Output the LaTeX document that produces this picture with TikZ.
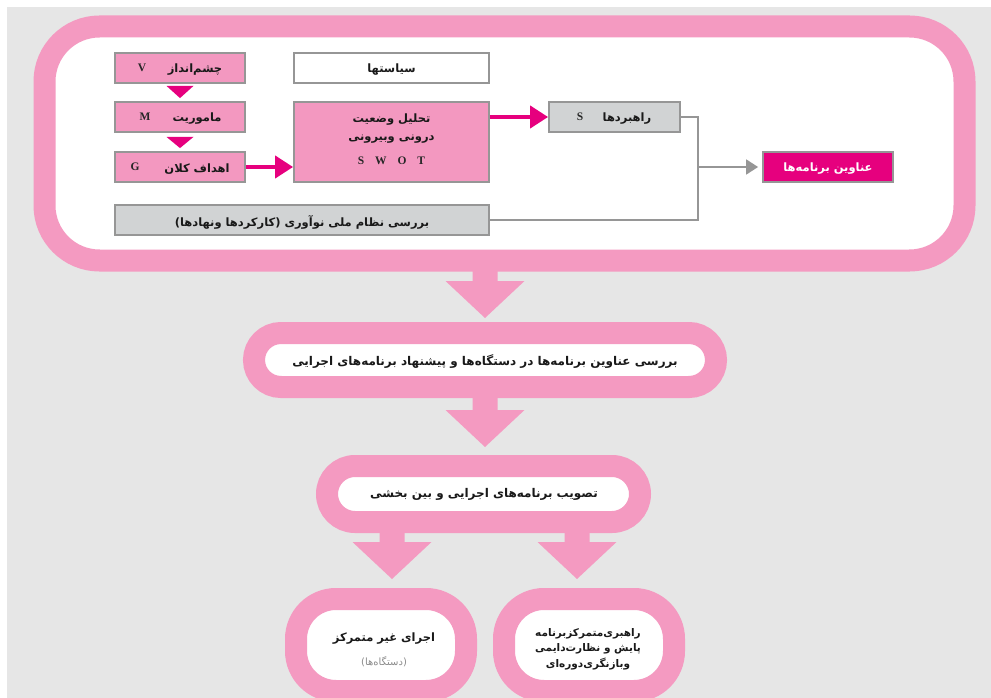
\documentclass[tikz,border=0pt]{standalone}
\usepackage{fontspec}
\setmainfont{DejaVu Sans}
\newfontfamily\fa[Script=Arabic]{DejaVu Sans}
\newfontfamily\lat{Liberation Serif}
\TeXXeTstate=1
\usetikzlibrary{arrows.meta,calc}
\definecolor{bandpink}{RGB}{244,154,193}
\definecolor{boxpink}{RGB}{243,152,192}
\definecolor{mag}{RGB}{230,0,126}
\definecolor{bgc}{RGB}{230,230,230}
\definecolor{boxgrey}{RGB}{209,211,212}
\definecolor{boxline}{RGB}{150,150,150}
\definecolor{linegrey}{RGB}{150,150,150}
\definecolor{softtext}{RGB}{140,140,140}
\tikzset{
 box/.style={draw=boxline, line width=1.8pt, minimum height=30pt, inner sep=0pt},
 pinkbox/.style={box, fill=boxpink},
 greybox/.style={box, fill=boxgrey},
 whitebox/.style={box, fill=white},
 fatext/.style={font=\fa\bfseries\fontsize{11.5}{13}\selectfont, inner sep=0pt, text=black!90, yshift=-2pt},
 pilltext/.style={font=\fa\bfseries\fontsize{12}{14}\selectfont, inner sep=0pt, text=black!90, yshift=-2pt},
 lettext/.style={font=\lat\bfseries\fontsize{11.5}{12}\selectfont, inner sep=0pt, text=black!85},
 band/.style={draw=bandpink, line width=22pt, fill=white, inner sep=0pt},
 conn/.style={draw=linegrey, line width=1.8pt},
 magarrow/.style={draw=mag, line width=4pt, -{Triangle[length=18pt,width=22pt]}},
 greyarrow/.style={conn, -{Triangle[length=12pt,width=15pt]}},
 bigarrow/.style={to path={let \p1=(\tikztostart), \p2=(\tikztotarget) in
   ({\x2-12.5pt},{\y1+3pt}) -- ({\x2+12.5pt},{\y1+3pt}) -- ({\x2+12.5pt},{\y2+37pt})
   -- ({\x2+39.5pt},{\y2+37pt}) -- (\p2) -- ({\x2-39.5pt},{\y2+37pt})
   -- ({\x2-12.5pt},{\y2+37pt}) -- cycle}},
}
\begin{document}
\begin{tikzpicture}[x=1pt,y=-1pt]
\useasboundingbox (0,0) rectangle (991,698);
\clip (0,0) rectangle (991,698);
\fill[white] (0,0) rectangle (991,698);
\fill[bgc] (7,7) rectangle (991,698);

% top frame
\node[band, rounded corners=55pt, minimum width=920pt, minimum height=234pt] (top) at (504.5,143.5) {};

% left column
\node[pinkbox, minimum width=130pt] (V) at (180,68) {};
\node[fatext] (Vt) at ($(V)+(15,0)$) {\beginR چشم‌انداز\endR};
\node[lettext] (Vl) at ($(V)+(-38,0)$) {V};
\node[pinkbox, minimum width=130pt] (M) at (180,117) {};
\node[fatext] (Mt) at ($(M)+(17,0)$) {\beginR ماموریت\endR};
\node[lettext] (Ml) at ($(M)+(-35,0)$) {M};
\node[pinkbox, minimum width=130pt] (G) at (180,167) {};
\node[fatext] (Gt) at ($(G)+(17,0)$) {\beginR اهداف کلان\endR};
\node[lettext] (Gl) at ($(G)+(-45,0)$) {G};

\fill[mag] ($(V.south)+(-13.5,2)$) -- ($(V.south)+(13.5,2)$) -- ($(M.north)+(0,-3)$) -- cycle;
\fill[mag] ($(M.south)+(-13.5,4)$) -- ($(M.south)+(13.5,4)$) -- ($(G.north)+(0,-3)$) -- cycle;

% middle column
\node[whitebox, minimum width=195pt] (P) at (391.5,68) {};
\node[fatext] (Pt) at (P) {\beginR سیاستها\endR};
\node[pinkbox, minimum width=195pt, minimum height=80pt] (W) at (391.5,142) {};
\node[fatext] (Wt1) at ($(W)+(0,-24)$) {\beginR تحلیل وضعیت\endR};
\node[fatext] (Wt2) at ($(W)+(0,-5)$) {\beginR درونی وبیرونی\endR};
\node[lettext] (Wt3) at ($(W)+(0,19)$) {S\hspace{0.95em}W\hspace{0.95em}O\hspace{0.95em}T};
\node[greybox, minimum width=374pt] (N) at (302,220) {};
\node[fatext] (Nt) at (N) {\beginR بررسی نظام ملی نوآوری (کارکردها ونهادها)\endR};

% right column
\node[greybox, minimum width=131pt] (S) at (614.5,117) {};
\node[fatext] (St) at ($(S)+(12.5,0)$) {\beginR راهبردها\endR};
\node[lettext] (Sl) at ($(S)+(-34.5,0)$) {S};
\node[box, fill=mag, minimum width=130pt] (T) at (828,167) {};
\node[fatext, text=white] (Tt) at (T) {\beginR عناوین برنامه‌ها\endR};

% connectors
\draw[magarrow] (G.east) -- (W.west |- G.east);
\draw[magarrow] (W.east |- S.west) -- (S.west);
\coordinate (J) at (698,167);
\draw[conn] (S.east) -| (J) |- (N.east);
\draw[greyarrow, shorten >=4pt] (J) -- (T.west);

% lower pills
\node[band, rounded corners=27pt, minimum width=462pt, minimum height=54pt] (p2) at (485,360) {};
\node[pilltext] (p2t) at (p2) {\beginR بررسی عناوین برنامه‌ها در دستگاه‌ها و پیشنهاد برنامه‌های اجرایی\endR};
\node[band, rounded corners=28pt, minimum width=313pt, minimum height=56pt] (p3) at (483.5,494) {};
\node[pilltext] (p3t) at (484,492) {\beginR تصویب برنامه‌های اجرایی و بین بخشی\endR};
\node[band, rounded corners=40pt, minimum width=170pt, minimum height=92pt] (p4) at (381,645) {};
\node[fatext] (p4a) at (384,637) {\beginR اجرای غیر متمرکز\endR};
\node[fatext, font=\fa\fontsize{10}{12}\selectfont, text=softtext] (p4b) at (384,660) {\beginR (دستگاه‌ها)\endR};
\node[band, rounded corners=40pt, minimum width=170pt, minimum height=92pt] (p5) at (589,645) {};
\node[fatext, align=center, font=\fa\bfseries\fontsize{10.5}{15.5}\selectfont] (p5t) at (588,647)
  {\beginR راهبری‌متمرکزبرنامه\endR\\\beginR پایش و نظارت‌دایمی\endR\\\beginR وبازنگری‌دوره‌ای\endR};

% big arrows
\coordinate (a1) at (485,318);
\coordinate (a2) at (485,447);
\coordinate (a3) at (392,579);
\coordinate (a4) at (577,579);
\fill[bandpink] (top.south) to[bigarrow] (a1);
\fill[bandpink] (p2.south) to[bigarrow] (a2);
\fill[bandpink] (p3.south) to[bigarrow] (a3);
\fill[bandpink] (p3.south) to[bigarrow] (a4);
\end{tikzpicture}
\end{document}
